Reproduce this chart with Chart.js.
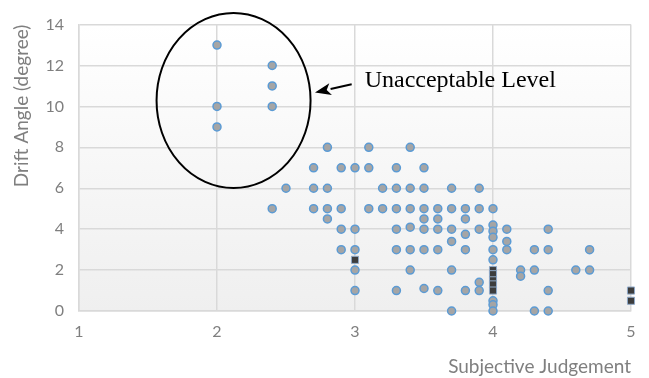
<!DOCTYPE html>
<html>
<head>
<meta charset="utf-8">
<script src="https://cdn.jsdelivr.net/npm/chart.js@4/dist/chart.umd.min.js"></script>
<style>
  html, body { margin: 0; padding: 0; background: #ffffff; }
  #wrap { width: 649px; height: 378px; position: relative; }
</style>
</head>
<body>
<div id="wrap"><canvas id="c" width="649" height="378"></canvas></div>
<script>
// ---- data ----
const circleX = [2,2,2, 2.4,2.4,2.4,2.4, 2.5, 2.7,2.7,2.7, 2.8,2.8,2.8,2.8, 2.9,2.9,2.9,2.9,
  3,3,3,3,3, 3.1,3.1,3.1, 3.2,3.2, 3.3,3.3,3.3,3.3,3.3,3.3, 3.4,3.4,3.4,3.4,3.4,3.4,
  3.5,3.5,3.5,3.5,3.5,3.5,3.5, 3.6,3.6,3.6,3.6,3.6, 3.7,3.7,3.7,3.7,3.7,3.7,
  3.8,3.8,3.8,3.8,3.8, 3.9,3.9,3.9,3.9,3.9, 4,4,4,4,4,4,4,4,4,
  4.1,4.1,4.1, 4.2,4.2, 4.3,4.3,4.3, 4.4,4.4,4.4,4.4, 4.6, 4.7,4.7];
const circleY = [13,10,9, 12,11,10,5, 6, 7,6,5, 8,6,5,4.5, 7,5,4,3,
  7,4,3,2,1, 8,7,5, 6,5, 7,6,5,4,3,1, 8,6,5,4.1,3,2,
  7,6,5,4.5,4,3,1.1, 5,4.5,4,3,1, 6,5,4,3.4,2,0,
  5,4.5,3.75,3,1, 6,5,4,1.4,1, 5,4.2,3.9,3.6,3,2.5,0.5,0.3,0,
  4,3.4,3, 2,1.7, 3,2,0, 4,3,1,0, 2, 3,2];
const squareX = [3, 4,4,4,4,4, 5,5];
const squareY = [2.5, 2.0,1.8,1.5,1.3,1.0, 1,0.5];
const xTickValues = [1,2,3,4,5];
const yTickValues = [0,2,4,6,8,10,12,14];
const xTitle = 'Subjective Judgement';
const yTitle = 'Drift Angle (degree)';
const noteText = 'Unacceptable Level';

const circleData = circleX.map((x, i) => ({ x: x, y: circleY[i] }));
const squareData = squareX.map((x, i) => ({ x: x, y: squareY[i] }));

const bgPlugin = {
  id: 'plotBg',
  beforeDraw(chart) {
    const { ctx, chartArea: a } = chart;
    const g = ctx.createLinearGradient(0, a.top, 0, a.bottom);
    g.addColorStop(0, '#ffffff');
    g.addColorStop(1, '#efefef');
    ctx.save();
    ctx.fillStyle = g;
    ctx.fillRect(a.left, a.top, a.right - a.left, a.bottom - a.top);
    ctx.restore();
  }
};

const notePlugin = {
  id: 'note',
  afterDatasetsDraw(chart) {
    const { ctx } = chart;
    const xs = chart.scales.x, ys = chart.scales.y;
    const px = v => xs.getPixelForValue(v);
    const py = v => ys.getPixelForValue(v);
    ctx.save();
    // ellipse around the unacceptable points
    const cx = px(2.12), cy = py(10.29);
    const rx = Math.abs(px(2.12 + 0.558) - cx), ry = Math.abs(py(10.29 + 4.28) - cy);
    ctx.beginPath();
    ctx.ellipse(cx, cy, rx, ry, 0, 0, Math.PI * 2);
    ctx.lineWidth = 2;
    ctx.strokeStyle = '#000000';
    ctx.stroke();
    // arrow
    const x1 = px(2.976), y1 = py(11.08), x2 = px(2.71), y2 = py(10.68);
    const ang = Math.atan2(y2 - y1, x2 - x1);
    const hl = 16, hw = 6;
    const bx = x2 - hl * Math.cos(ang), by = y2 - hl * Math.sin(ang);
    ctx.beginPath();
    ctx.moveTo(x1, y1);
    ctx.lineTo(bx, by);
    ctx.lineWidth = 2;
    ctx.stroke();
    ctx.beginPath();
    ctx.moveTo(x2, y2);
    ctx.lineTo(bx + hw * Math.sin(ang), by - hw * Math.cos(ang));
    ctx.lineTo(bx + 4 * Math.cos(ang), by + 4 * Math.sin(ang));
    ctx.lineTo(bx - hw * Math.sin(ang), by + hw * Math.cos(ang));
    ctx.closePath();
    ctx.fillStyle = '#000000';
    ctx.fill();
    // text
    ctx.font = '24px "Liberation Serif", "Times New Roman", serif';
    ctx.fillStyle = '#000000';
    ctx.textAlign = 'left';
    ctx.textBaseline = 'middle';
    ctx.fillText(noteText, px(3.07), py(11.26));
    ctx.restore();
  }
};

const gridColor = '#d9d9d9';
const tickColor = '#7f7f7f';
const fontFam = 'Lato, "Open Sans", sans-serif';

new Chart(document.getElementById('c'), {
  type: 'scatter',
  data: {
    datasets: [
      {
        label: 'squares',
        data: squareData,
        order: 0,
        clip: false,
        pointStyle: 'rect',
        pointRadius: 5,
        backgroundColor: '#3d3d3d',
        borderColor: '#8fa9c8',
        borderWidth: 1
      },
      {
        label: 'circles',
        data: circleData,
        order: 1,
        clip: false,
        pointStyle: 'circle',
        pointRadius: 4,
        backgroundColor: '#a5a5a5',
        borderColor: '#5b9bd5',
        borderWidth: 1.5
      }
    ]
  },
  options: {
    responsive: false,
    animation: false,
    events: [],
    layout: { padding: { top: 21, right: 18, left: 0, bottom: 0 } },
    plugins: { legend: { display: false }, tooltip: { enabled: false } },
    scales: {
      x: {
        type: 'linear',
        min: 1, max: 5,
        afterBuildTicks(scale) { scale.ticks = xTickValues.map(v => ({ value: v })); },
        afterFit(scale) { scale.height = 67; },
        grid: { color: gridColor, lineWidth: 1.5, drawTicks: false },
        border: { color: gridColor, width: 1.5 },
        ticks: { color: tickColor, padding: 11, font: { family: fontFam, size: 16 } },
        title: {
          display: true, text: xTitle, align: 'end', color: tickColor,
          font: { family: fontFam, size: 19 }, padding: { top: 0, bottom: 0 }
        }
      },
      y: {
        type: 'linear',
        min: 0, max: 14,
        afterBuildTicks(scale) { scale.ticks = yTickValues.map(v => ({ value: v })); },
        afterFit(scale) { scale.width = 79; },
        grid: { color: gridColor, lineWidth: 1.5, drawTicks: false },
        border: { color: gridColor, width: 1.5 },
        ticks: { color: tickColor, padding: 15, font: { family: fontFam, size: 16 } },
        title: {
          display: true, text: yTitle, align: 'end', color: tickColor,
          font: { family: fontFam, size: 19 }, padding: { top: 10, bottom: 0 }
        }
      }
    }
  },
  plugins: [bgPlugin, notePlugin]
});
</script>
</body>
</html>
